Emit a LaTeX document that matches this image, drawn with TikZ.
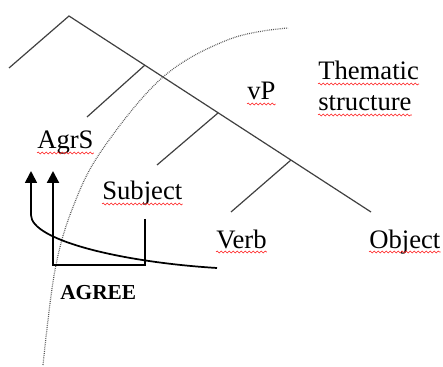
\documentclass[tikz,border=0pt]{standalone}
\usepackage{fontspec}
\setmainfont{Liberation Serif}
\usetikzlibrary{arrows.meta,decorations.pathmorphing}

\tikzset{
  branch/.style={draw=black!75, line width=0.9pt},
  phase/.style={draw=black!65, line width=0.9pt, dash pattern=on 0.6pt off 0.8pt},
  agr/.style={draw=black, line width=1.7pt},
  agrtip/.style={-{Triangle[width=9pt,length=9pt]}},
  word/.style={inner sep=0pt, anchor=base west, font=\fontsize{20}{24}\selectfont},
  spell/.style={draw=red!90, line width=0.4pt, decorate,
    decoration={snake, segment length=3pt, amplitude=0.7pt}}
}

\begin{document}
\begin{tikzpicture}[x=0.75pt,y=-0.75pt]
\useasboundingbox (0,0) rectangle (443,367);

% tree
\coordinate (top) at (69,16);
\coordinate (spec) at (9,68);
\coordinate (foot) at (371,212);
\coordinate (b1) at (145,65);
\coordinate (b2) at (218,113);
\coordinate (b3) at (291,160);
\coordinate (e1) at (87,117);
\coordinate (e2) at (157,165);
\coordinate (e3) at (231,212);

\draw[branch] (spec) -- (top) -- (foot);
\draw[branch] (e1) -- (b1);
\draw[branch] (e2) -- (b2);
\draw[branch] (e3) -- (b3);

% phase boundary
\draw[phase] plot[smooth, tension=0.6] coordinates
  {(43,365) (55,270) (73,207) (102,150) (163,77) (230,39) (288,28)};

% labels
\node[word] (agrs) at (37,149) {AgrS};
\node[word] (subject) at (102,200) {Subject};
\node[word] (verb) at (216,248) {Verb};
\node[word] (object) at (369,248) {Object};
\node[word] (vp) at (247,100) {vP};
\node[word] (them) at (318,80) {Thematic};
\node[word] (struct) at (318,111) {structure};
\node[inner sep=0pt, anchor=base west, font=\fontsize{16}{19}\selectfont\bfseries] (agree) at (60,300) {AGREE};

\draw[spell] ([yshift=-3pt]agrs.base west) -- ([yshift=-3pt]agrs.base east);
\draw[spell] ([yshift=-3pt]subject.base west) -- ([yshift=-3pt]subject.base east);
\draw[spell] ([yshift=-3pt]verb.base west) -- ([yshift=-3pt]verb.base east);
\draw[spell] ([yshift=-3pt]object.base west) -- ([yshift=-3pt]object.base east);
\draw[spell] ([yshift=-3pt]vp.base west) -- ([yshift=-3pt]vp.base east);
\draw[spell] ([yshift=-3pt]them.base west) -- ([yshift=-3pt]them.base east);
\draw[spell] ([yshift=-3pt]struct.base west) -- ([yshift=-3pt]struct.base east);

% agree
\coordinate (tipL) at (31,171);
\coordinate (bendL) at (31,215);
\coordinate (curveEnd) at (217,268);
\coordinate (tipR) at (53,171);
\coordinate (cornerR) at (53,265);
\coordinate (cornerS) at (145,265);
\coordinate (subjFoot) at (145,219);

\draw[agr, line width=1.3pt, agrtip] (curveEnd) .. controls (120,262) and (31,240) .. (bendL) -- (tipL);
\draw[agr, agrtip] (subjFoot) -- (cornerS) -- (cornerR) -- (tipR);

\end{tikzpicture}
\end{document}
